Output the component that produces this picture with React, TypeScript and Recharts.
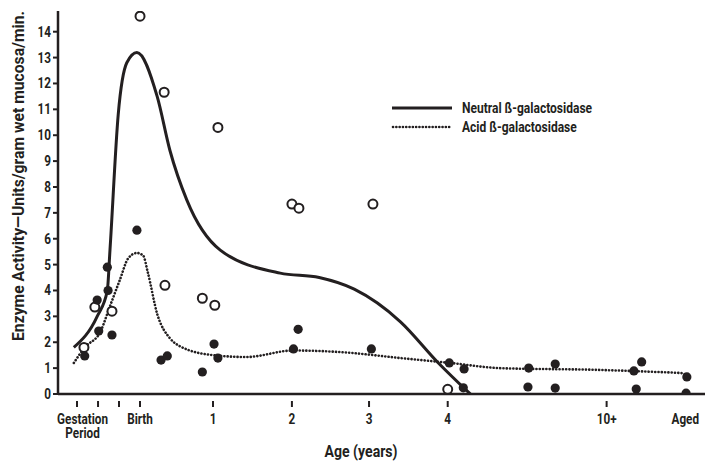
import React from "react";
import { ComposedChart, Line, Scatter, XAxis, YAxis } from "recharts";

// x values are positions along the (non-linear) age axis: Birth = 0, 1 yr ~ 0.94 ... Aged = 7
const tickPos = [-0.809, -0.539, -0.27, -0.738, 0, 0.937, 1.95, 2.94, 3.95, 5.99, 7.0];
const tickLabels = ["", "", "", "Gestation\nPeriod", "Birth", "1", "2", "3", "4", "10+", "Aged"];
const tickMarks = [true, true, true, false, true, true, true, true, true, true, false];

const yTicks = [0, 1, 2, 3, 4, 5, 6, 7, 8, 9, 10, 11, 12, 13, 14];

// open circles: neutral
const neutralX = [0, 0.31, 1.0, 1.95, 2.04, 2.99, 0.32, 0.8, 0.96, -0.58, -0.36, -0.72, 3.95];
const neutralY = [14.6, 11.66, 10.3, 7.34, 7.18, 7.34, 4.2, 3.7, 3.43, 3.36, 3.2, 1.8, 0.18];

// filled circles: acid
const acidX = [-0.04, -0.42, -0.41, -0.55, -0.53, -0.36, -0.71, 0.27, 0.35, 0.8, 0.95, 1.0, 2.03, 1.97, 2.97, 3.97, 4.16, 4.15, 4.99, 4.98, 5.33, 5.33, 6.34, 6.44, 6.37, 7.02, 7.01];
const acidY = [6.33, 4.9, 4.0, 3.63, 2.43, 2.28, 1.47, 1.31, 1.47, 0.85, 1.93, 1.39, 2.5, 1.74, 1.74, 1.2, 0.97, 0.24, 1.0, 0.27, 1.16, 0.23, 0.89, 1.24, 0.19, 0.66, 0.03];

// fitted curves
const neutralFitX = [-0.85, -0.55, -0.42, -0.385, -0.28, -0.17, -0.04, 0.22, 0.385, 0.6, 1.03, 1.8, 2.3, 2.75, 3.34, 3.83, 4.24];
const neutralFitY = [1.8, 3.0, 4.0, 5.6, 10.8, 12.8, 13.2, 11.5, 9.4, 7.5, 5.56, 4.67, 4.5, 4.05, 2.8, 1.2, 0];
const acidFitX = [-0.85, -0.71, -0.51, -0.385, -0.26, -0.15, -0.04, 0.04, 0.1, 0.22, 0.385, 0.51, 0.94, 1.37, 1.96, 2.57, 3.34, 3.98, 4.62, 5.9, 6.55, 6.97, 7.02];
const acidFitY = [1.2, 1.8, 2.4, 3.4, 4.4, 5.25, 5.45, 5.35, 4.7, 3.1, 2.15, 1.85, 1.5, 1.43, 1.68, 1.62, 1.39, 1.2, 1.0, 0.93, 0.86, 0.8, 0.66];

const zip = (xs: number[], ys: number[]) => xs.map((u, i) => ({ u, v: ys[i] }));

const INK = "#231f20";
const FONT = "Roboto, 'Liberation Sans', sans-serif";

// condensed bold text (the source uses a condensed face we don't have)
const CText = ({ x, y, size = 14, anchor = "start", rotate = 0, squeeze = 0.84, children }: any) => (
  <g transform={`translate(${x} ${y}) rotate(${rotate}) scale(${squeeze} 1)`}>
    <text x={0} y={0} textAnchor={anchor} fontFamily={FONT} fontWeight="bold" fontSize={size} fill={INK}>
      {children}
    </text>
  </g>
);

const AgeTick = (props: any) => {
  const { x, y, payload } = props;
  const i = tickPos.indexOf(payload.value);
  const lines = (tickLabels[i] || "").split("\n");
  return (
    <g>
      {tickMarks[i] && <line x1={x} x2={x} y1={y - 1} y2={y + 5} stroke={INK} strokeWidth={2} />}
      {lines.map((l, k) => (
        <CText key={k} x={x} y={y + 22 + k * 14} anchor="middle">{l}</CText>
      ))}
    </g>
  );
};

const ValueTick = (props: any) => {
  const { x, y, payload } = props;
  return (
    <g>
      <line x1={x + 2} x2={x + 7} y1={y} y2={y} stroke={INK} strokeWidth={2} />
      <CText x={x} y={y + 5} anchor="end">{payload.value}</CText>
    </g>
  );
};

const OpenDot = (p: any) => <circle cx={p.cx} cy={p.cy} r={4.5} fill="#fff" stroke={INK} strokeWidth={2} />;
const FilledDot = (p: any) => <circle cx={p.cx} cy={p.cy} r={4.6} fill={INK} />;

const LegendBox = () => (
  <svg width={240} height={40} style={{ position: "absolute", left: 390, top: 98 }}>
    <line x1={2} x2={62} y1={10} y2={10} stroke={INK} strokeWidth={3} />
    <line x1={3} x2={62} y1={29} y2={29} stroke={INK} strokeWidth={2.6} strokeDasharray="0.1 3.2" strokeLinecap="round" />
    <CText x={72} y={15} squeeze={0.86}>Neutral ß-galactosidase</CText>
    <CText x={72} y={34} squeeze={0.86}>Acid ß-galactosidase</CText>
  </svg>
);

export default function App() {
  return (
    <div style={{ position: "absolute", left: 0, top: 0, width: 705, height: 463, background: "#fff" }}>
      <ComposedChart width={705} height={463} margin={{ top: 11, right: 0, bottom: 0, left: 0 }}>
        <XAxis
          type="number"
          dataKey="u"
          domain={[-1.053, 7.253]}
          ticks={tickPos}
          interval={0}
          tick={<AgeTick />}
          tickLine={false}
          axisLine={{ stroke: INK, strokeWidth: 2.5 }}
          height={69}
          allowDataOverflow
          label={{ content: () => <CText x={361} y={457} size={16} squeeze={0.88} anchor="middle">Age (years)</CText> }}
        />
        <YAxis
          type="number"
          dataKey="v"
          domain={[0, 14.8]}
          ticks={yTicks}
          interval={0}
          width={58}
          tickSize={5}
          tickLine={false}
          tick={<ValueTick />}
          axisLine={{ stroke: INK, strokeWidth: 2.5 }}
          allowDataOverflow
          label={{
            content: () => (
              <text
                x={24}
                y={176}
                transform="rotate(-90 24 176)"
                textAnchor="middle"
                textLength={330}
                lengthAdjust="spacingAndGlyphs"
                fontFamily={FONT}
                fontWeight="bold"
                fontSize={17}
                fill={INK}
              >
                Enzyme Activity—Units/gram wet mucosa/min.
              </text>
            ),
          }}
        />
        <Line data={zip(neutralFitX, neutralFitY)} dataKey="v" type="monotone" stroke={INK} strokeWidth={3} dot={false} isAnimationActive={false} />
        <Line data={zip(acidFitX, acidFitY)} dataKey="v" type="monotone" stroke={INK} strokeWidth={2.6} strokeDasharray="0.1 3.2" strokeLinecap="round" dot={false} isAnimationActive={false} />
        <Scatter data={zip(neutralX, neutralY)} dataKey="v" shape={<OpenDot />} isAnimationActive={false} />
        <Scatter data={zip(acidX, acidY)} dataKey="v" shape={<FilledDot />} isAnimationActive={false} />
      </ComposedChart>
      <LegendBox />
    </div>
  );
}
